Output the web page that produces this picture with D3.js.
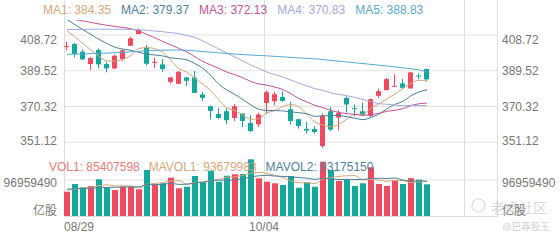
<!DOCTYPE html>
<html><head><meta charset="utf-8">
<script src="https://cdn.jsdelivr.net/npm/d3@7"></script>
<style>
body{margin:0;background:#fff}
svg{display:block}
text{font-family:"Liberation Sans",Arial,"Noto Sans CJK SC",sans-serif}
</style>
</head><body>
<svg id="c" width="560" height="240"></svg>
<script>
// ---------- data ----------
const opens  = [402.47,403.87,399.73,393.11,400.64,393.11,390.79,395.80,402.96,409.26,
                401.88,394.02,392.95,383.58,382.50,385.95,385.95,376.80,370.50,366.35,
                367.81,364.20,366.57,361.51,360.81,372.27,373.19,375.50,368.88,363.50,
                358.28,358.28,349.13,367.81,364.41,374.97,369.42,367.81,365.28,376.04,
                379.11,381.10,382.72,380.02,386.97,390.42];
const closes = [402.80,398.49,395.64,396.34,392.95,390.79,397.58,400.48,406.94,411.57,
                393.27,394.35,390.42,385.95,388.96,384.12,377.66,374.97,367.97,364.20,
                362.96,370.50,362.58,357.20,366.03,378.03,376.96,373.35,362.58,359.89,
                357.42,356.66,365.28,357.95,366.89,371.41,369.10,365.65,374.27,378.57,
                385.03,381.43,380.35,388.64,386.65,384.87];
const highs  = [405.11,404.41,401.02,396.88,401.56,394.35,398.33,401.18,407.80,412.33,
                403.34,396.50,395.80,386.27,389.34,386.27,389.34,378.20,370.77,369.58,
                369.26,371.74,366.73,365.65,367.11,379.11,378.20,378.57,372.81,363.88,
                362.05,359.73,366.57,370.12,368.34,375.88,371.41,372.49,374.64,380.02,
                385.73,387.72,385.03,388.96,388.10,390.79];
const lows   = [400.64,396.71,395.26,389.88,390.79,388.64,390.42,394.72,402.80,408.99,
                392.19,391.11,388.96,382.50,382.34,381.43,377.50,373.19,363.34,363.50,
                360.81,362.42,359.35,356.66,359.35,366.57,371.04,372.81,360.65,358.49,
                355.80,355.80,348.05,357.04,357.58,367.11,365.28,365.28,364.74,374.97,
                379.11,380.89,379.65,380.02,385.03,383.58];
const volumes = [65400000,86200000,77300000,80800000,98800000,77300000,70000000,78900000,78900000,71900000,
                 123900000,85400000,88100000,103200000,74600000,78900000,107700000,92400000,122000000,92400000,
                 108500000,112300000,113100000,152700000,101500000,92400000,88100000,83500000,107700000,76200000,
                 90800000,78900000,146200000,123900000,94300000,98800000,80800000,88100000,131200000,86200000,
                 80800000,95000000,86000000,102000000,98000000,85407598];
const ma1 = [410.87,407.64,404.14,400.64,397.24,394.84,394.66,395.63,397.75,401.47,
             401.97,401.32,399.31,395.11,390.59,388.76,385.42,382.33,378.74,373.78,
             369.55,368.12,365.64,363.49,363.85,366.87,368.16,370.31,371.39,370.16,
             366.04,361.98,360.37,359.44,360.84,363.64,366.13,366.20,369.46,371.80,
             374.52,376.99,379.93,382.80,384.42,384.35];
const ma2 = [417.06,414.26,411.57,408.99,406.35,404.09,402.15,401.13,400.48,399.36,
             398.41,397.99,397.47,396.43,396.03,395.36,393.37,390.82,386.92,382.19,
             379.16,376.77,373.99,371.11,368.82,368.21,368.14,367.98,367.44,367.01,
             366.45,365.07,365.34,365.42,365.50,364.84,364.05,363.28,364.45,366.32,
             369.08,371.56,373.07,376.13,378.11,379.37];
const ma3 = [417.87,416.95,416.26,415.45,414.64,413.94,413.29,412.76,412.06,410.87,
             409.00,407.20,405.20,403.40,401.50,399.60,397.00,394.50,392.60,390.77,
             388.78,387.38,385.73,383.77,382.43,381.79,380.76,379.40,377.18,374.60,
             372.81,370.92,369.66,368.26,367.16,366.52,366.10,365.63,365.95,366.66,
             367.77,368.31,369.20,370.77,371.81,372.13];
const ma4 = [411.68,411.68,411.73,411.79,411.84,411.84,411.84,411.79,411.68,411.52,
             411.25,410.87,410.44,409.96,409.42,408.45,407.37,405.49,403.34,401.18,
             399.03,396.88,394.72,392.57,390.68,388.80,387.45,386.11,384.49,382.85,
             381.34,379.94,378.93,377.65,376.78,376.14,375.19,374.03,372.94,371.84,
             371.56,371.13,370.80,370.89,370.81,370.83];
const ma5 = [398.33,398.49,398.60,398.71,398.87,399.03,399.19,399.41,399.67,399.94,
             400.21,400.43,400.59,400.64,400.64,400.54,400.21,399.84,399.51,399.14,
             398.81,398.49,398.22,397.95,397.74,397.52,397.25,396.98,396.71,396.44,
             396.18,395.91,395.53,395.10,394.67,394.24,393.81,393.38,392.95,392.51,
             392.08,391.60,391.11,390.58,389.98,388.83];
// volume moving averages, in millions
const mavol1M = [70,72,75,78,81.7,84.1,80.8,81.2,80.8,75.4,
                 84.7,87.8,89.6,94.5,95.0,86.0,90.5,91.4,95.1,98.7,
                 104.6,105.5,109.7,115.8,117.6,114.4,109.6,103.6,94.6,89.6,
                 89.3,87.4,100.0,103.2,106.8,108.4,108.8,97.2,98.6,97.0,
                 93.4,96.3,95.8,90.0,92.4,93.68];
const mavol2M = [72,73,74,75,76,77,77.5,78,78.3,78.6,
                 84.4,84.3,85.4,87.6,85.2,85.4,89.2,90.5,94.8,96.9,
                 95.3,98.0,100.5,105.5,108.2,109.5,107.5,106.7,105.2,103.6,
                 101.8,98.5,101.8,98.9,98.2,98.8,98.1,98.6,100.9,101.9,
                 100.9,102.5,96.5,94.3,94.7,93.18];
const priceTicks = [351.12, 370.32, 389.52, 408.72];
const volTicks = [0, 96959490];
const volUnit = "亿股";
const dateLabels = ["08/29", "10/04"];
const dateSlots = [0, 25];
const maNames = ["MA1","MA2","MA3","MA4","MA5"];
const maLast = ["384.35","379.37","372.13","370.83","388.83"];
const volNames = ["VOL1","MAVOL1","MAVOL2"];
const volLast = ["85407598","93679983","93175150"];

// ---------- style ----------
const RED = "#ef4a60", GREEN = "#14a89b";
const maColors = ["#d6a67c","#4f8197","#c0559a","#a6a9d9","#5aa9cd"];
const volColors = ["#ea7b78","#d6a67c","#4f8197"];
const gridC = "#e3e3e3", labelC = "#777";

const svg = d3.select("#c");
const x = d3.scaleBand().domain(d3.range(50)).range([64,464])
  .paddingInner(0.25).paddingOuter(0.125).align(0);
const bw = x.bandwidth();
const cx = i => x(i) + 3;
const y = d3.scaleLinear().domain([351.12,408.72]).range([142.3,35]);
const yv = d3.scaleLinear().domain([0,96959490]).range([216,180]);
const rightEdge = 497;

// grid
const g = svg.append("g");
g.selectAll("line.h").data(priceTicks).join("line")
  .attr("x1",64).attr("x2",rightEdge).attr("y1",d=>y(d)).attr("y2",d=>y(d))
  .attr("stroke",gridC).attr("stroke-width",1);
g.append("line").attr("x1",64).attr("x2",rightEdge).attr("y1",yv(volTicks[1])).attr("y2",yv(volTicks[1]))
  .attr("stroke",gridC);
g.append("line").attr("x1",64).attr("x2",rightEdge).attr("y1",yv(0)+0.5).attr("y2",yv(0)+0.5)
  .attr("stroke","#dcdcdc");
[x(0), x(25), 464, rightEdge].forEach(v=>{
  g.append("line").attr("x1",v+0.5).attr("x2",v+0.5).attr("y1",0).attr("y2",yv(0)+1)
   .attr("stroke","#dedede");
});

// clip for price pane
svg.append("clipPath").attr("id","pc").append("rect").attr("x",64).attr("y",20).attr("width",400).attr("height",140);

const idx = d3.range(closes.length);

// candles
const cg = svg.append("g").attr("clip-path","url(#pc)");
const colorOf = i => closes[i] >= opens[i] ? RED : GREEN;
cg.selectAll("line.w").data(idx).join("line")
  .attr("x1",i=>x(i)+2.5).attr("x2",i=>x(i)+2.5)
  .attr("y1",i=>y(highs[i])).attr("y2",i=>y(lows[i]))
  .attr("stroke",colorOf).attr("stroke-width",1);
cg.selectAll("rect.b").data(idx).join("rect")
  .attr("x",i=>x(i)).attr("width",5)
  .attr("y",i=>Math.min(y(opens[i]),y(closes[i])))
  .attr("height",i=>Math.max(1,Math.abs(y(opens[i])-y(closes[i]))))
  .attr("fill",colorOf);

// MA lines
const mas = [ma1,ma2,ma3,ma4,ma5];
const line = d3.line().x((d,i)=>cx(i)).y(d=>y(d)).curve(d3.curveMonotoneX);
mas.forEach((m,k)=>{
  cg.append("path").datum(m).attr("d",line).attr("fill","none")
    .attr("stroke",maColors[k]).attr("stroke-width",1);
});

// volume bars
const vg = svg.append("g");
vg.selectAll("rect").data(idx).join("rect")
  .attr("x",i=>x(i)).attr("width",bw)
  .attr("y",i=>yv(volumes[i])).attr("height",i=>yv(0)-yv(volumes[i]))
  .attr("fill",colorOf);
const vline = d3.line().x((d,i)=>cx(i)).y(d=>yv(d*1e6)).curve(d3.curveMonotoneX);
[mavol1M, mavol2M].forEach((m,k)=>{
  vg.append("path").datum(m).attr("d",vline).attr("fill","none")
    .attr("stroke",volColors[k+1]).attr("stroke-width",1);
});

// price axes
function styleAxis(sel){
  sel.select(".domain").remove();
  sel.selectAll(".tick line").remove();
  sel.selectAll("text").attr("fill",labelC).attr("font-size",12)
    .attr("font-family",'"Liberation Sans",Arial,"Noto Sans CJK SC",sans-serif');
}
const pdy = (d,i)=> i===0 ? 2 : (i===priceTicks.length-1 ? 8.3 : 4.2);
const pa = svg.append("g").attr("transform","translate(57,0)")
  .call(d3.axisLeft(y).tickValues(priceTicks).tickSize(0).tickPadding(0).tickFormat(d3.format(".2f")));
styleAxis(pa); pa.selectAll("text").attr("dy",pdy);
const pr = svg.append("g").attr("transform","translate(502,0)")
  .call(d3.axisRight(y).tickValues(priceTicks).tickSize(0).tickPadding(0).tickFormat(d3.format(".2f")));
styleAxis(pr); pr.selectAll("text").attr("dy",pdy);

// volume axes
const vfmt = d => d===0 ? volUnit : d3.format("d")(d);
const vdy = d => d===0 ? -1.5 : 6.5;
const va = svg.append("g").attr("transform","translate(57,0)")
  .call(d3.axisLeft(yv).tickValues(volTicks).tickSize(0).tickPadding(0).tickFormat(vfmt));
styleAxis(va); va.selectAll("text").attr("dy",vdy);
const vr = svg.append("g").attr("transform","translate(502,0)")
  .call(d3.axisRight(yv).tickValues(volTicks).tickSize(0).tickPadding(0).tickFormat(vfmt));
styleAxis(vr); vr.selectAll("text").attr("dy",vdy);

// date axis
svg.selectAll("text.date").data(dateLabels).join("text")
  .attr("x",(d,i)=>x(dateSlots[i]))
  .attr("y",231)
  .attr("text-anchor",(d,i)=> i===0 ? "start" : "middle")
  .attr("fill",labelC).attr("font-size",12).text(d=>d);

// legends
function legend(names, vals, colors, x0, yb, gap){
  let xx = x0;
  names.forEach((n,k)=>{
    const t = svg.append("text").attr("x",xx).attr("y",yb).attr("font-size",12)
      .attr("fill",colors[k]).text(n+": "+vals[k]);
    xx += t.node().getComputedTextLength() + gap;
  });
}
legend(maNames, maLast, maColors, 43, 14, 10);
legend(volNames, volLast, volColors, 49, 171, 9);

// watermark
const wm = svg.append("g").attr("opacity",0.55);
wm.append("circle").attr("cx",478.5).attr("cy",205.5).attr("r",6.5).attr("fill","none").attr("stroke","#bbb").attr("stroke-width",1.2);
wm.append("text").attr("x",491).attr("y",213).attr("font-size",14).attr("fill","#bbb")
  .attr("font-family",'"Noto Sans CJK SC",sans-serif').text("老虎社区");
wm.append("text").attr("x",502).attr("y",230).attr("font-size",9.5).attr("fill","#aaa")
  .attr("font-family",'"Noto Sans CJK SC",sans-serif').text("@巴菲股王");
// redraw right unit label on top
vr.raise();
</script>
</body></html>
